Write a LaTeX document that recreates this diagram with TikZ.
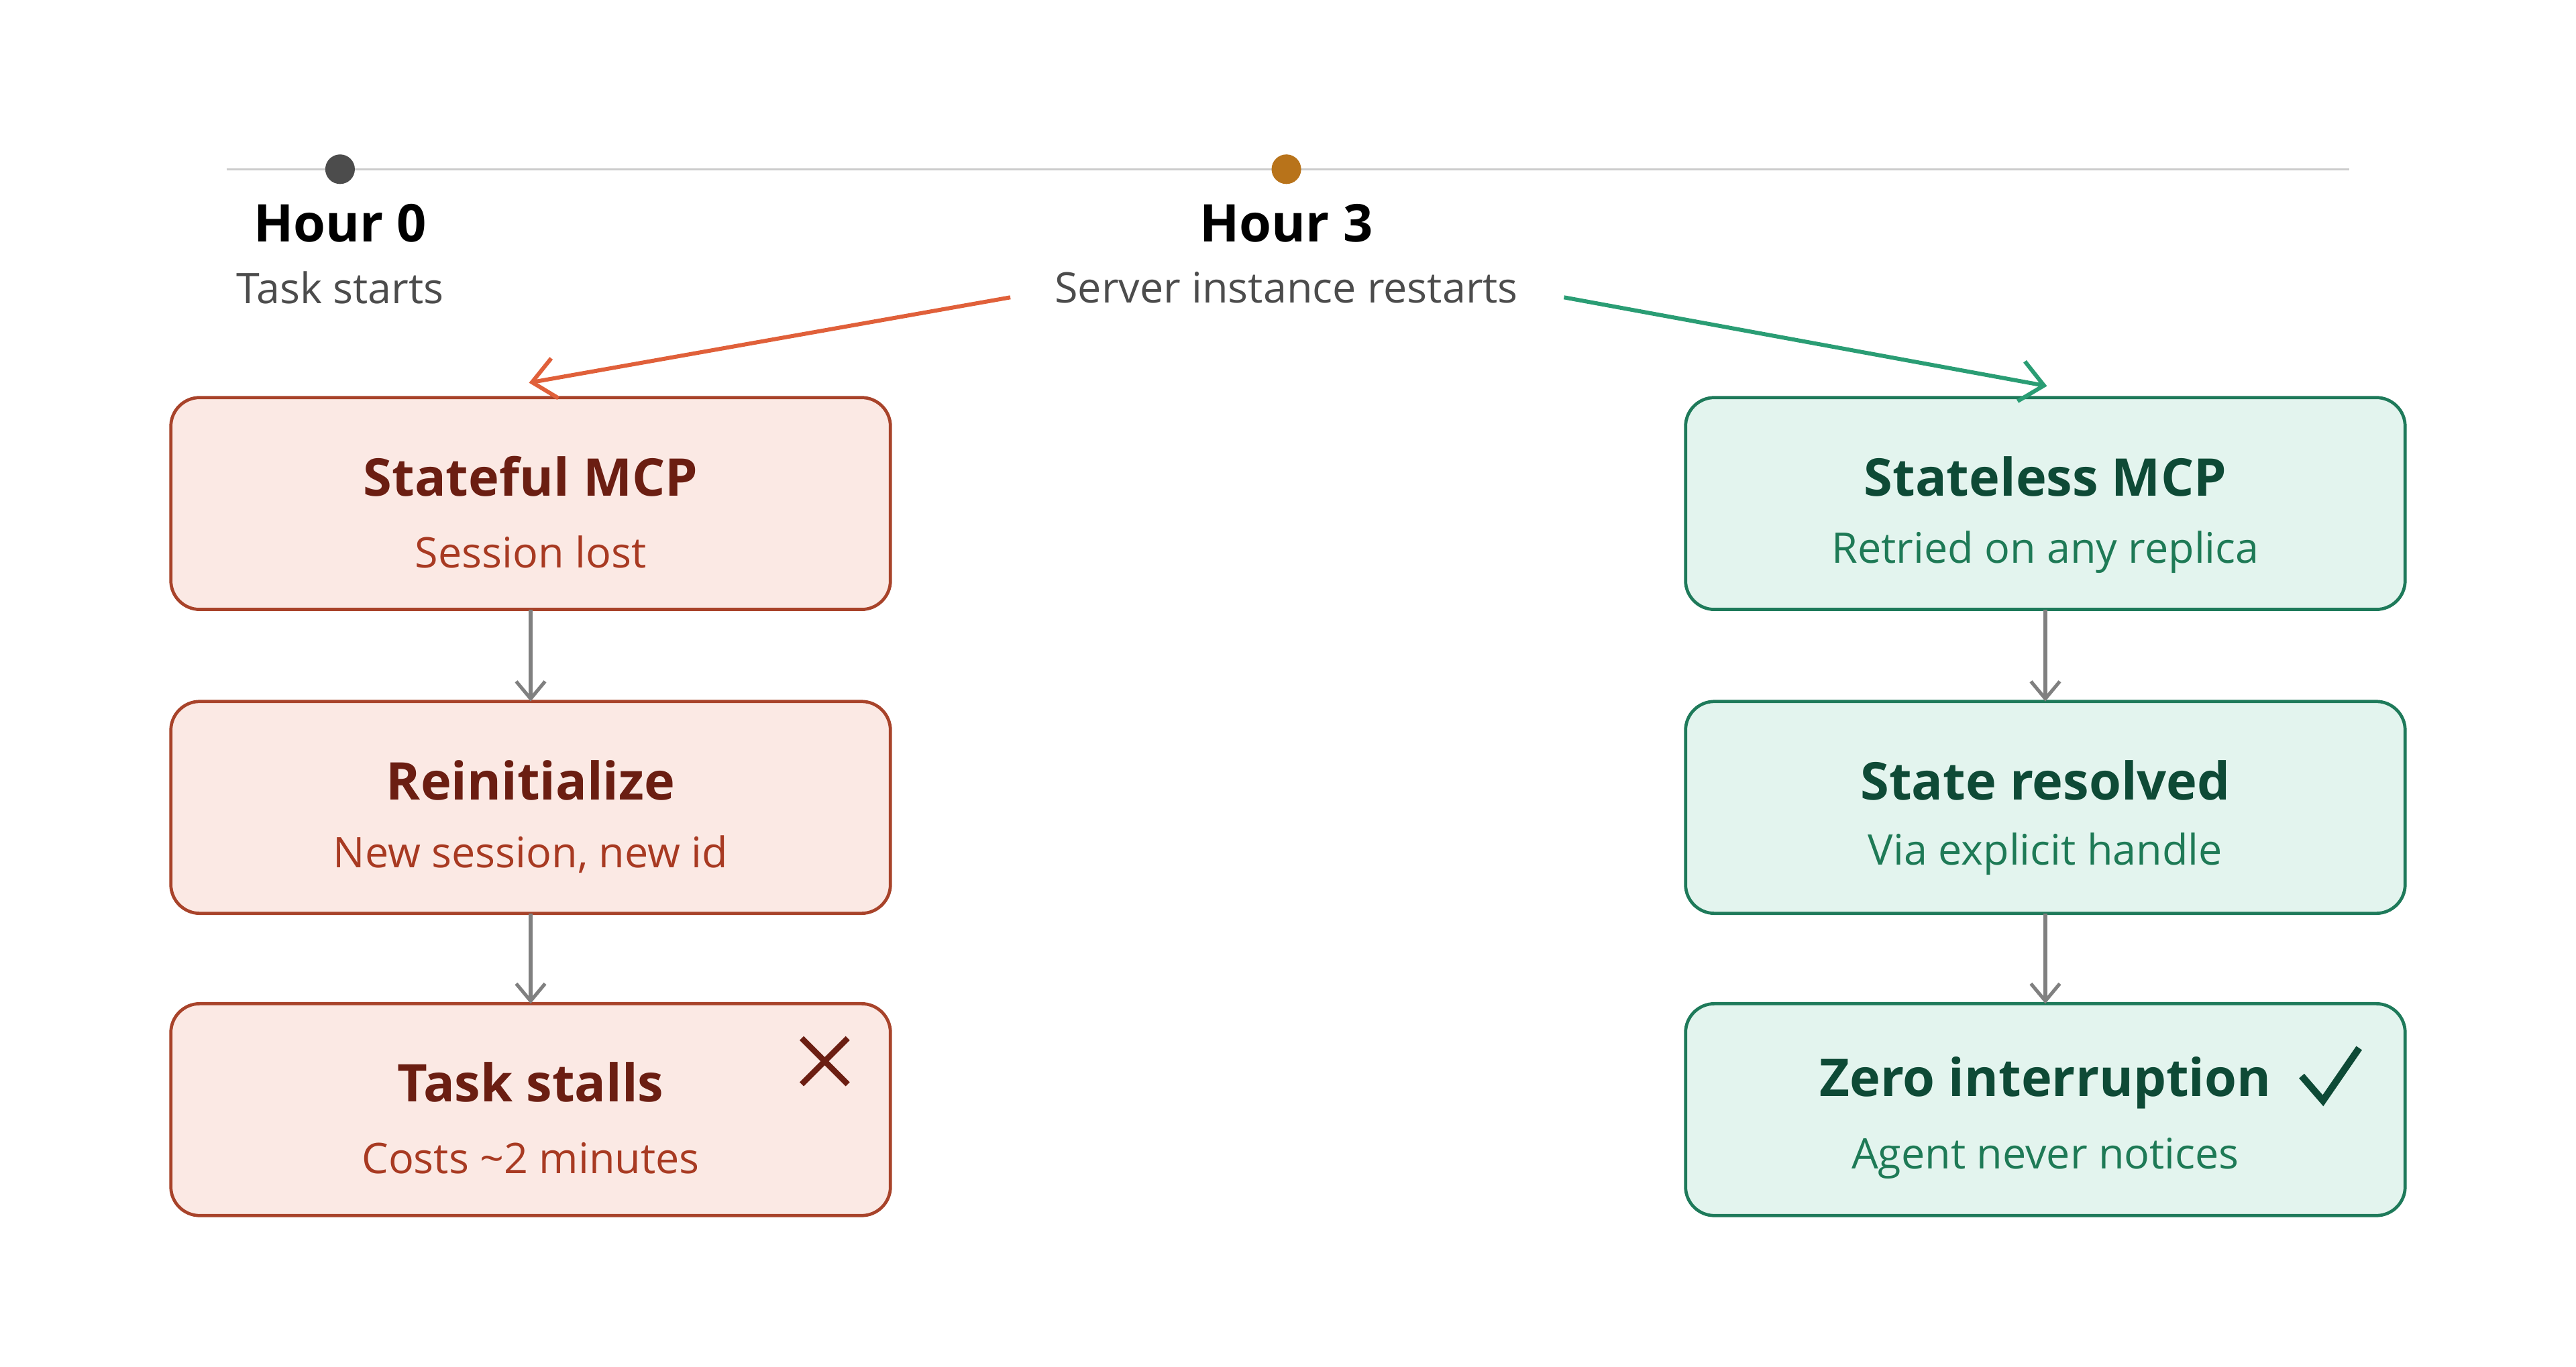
\documentclass[tikz,border=0pt]{standalone}
\usepackage{fontspec}
\setmainfont{Open Sans}
\usetikzlibrary{arrows.meta}
\definecolor{rb}{HTML}{A8432A}\definecolor{rf}{HTML}{FBE9E4}
\definecolor{rt}{HTML}{6B1E12}\definecolor{rs}{HTML}{A83A22}
\definecolor{gb}{HTML}{1E7A5A}\definecolor{gf}{HTML}{E3F4EE}
\definecolor{gt}{HTML}{0E4A36}\definecolor{gs}{HTML}{1E7A56}
\definecolor{ra}{HTML}{E0603A}\definecolor{ga}{HTML}{2A9D74}
\definecolor{od}{HTML}{B8731A}
\begin{document}
\begin{tikzpicture}[x=0.01cm,y=-0.01cm,
 rbox/.style={draw=rb,fill=rf,rounded corners=5pt,line width=0.55pt},
 gbox/.style={draw=gb,fill=gf,rounded corners=5pt,line width=0.55pt},
 ttl/.style={font=\fontsize{9}{10}\selectfont\bfseries},
 sub/.style={font=\fontsize{7.3}{9}\selectfont},
 down/.style={draw=gray,line width=0.6pt,-{Straight Barb[length=3pt,width=5pt]}}]
\useasboundingbox (0,0) rectangle (1568,832);
\draw[gray!40,line width=0.4pt] (138,103) -- (1430,103);
\fill[black!70] (207,103) circle (9);
\fill[od] (783,103) circle (9);
\node[ttl] (h0) at (207,136) {Hour 0};
\node[sub,black!70] (t0) at (207,175) {Task starts};
\node[ttl] (h3) at (783,136) {Hour 3};
\node[sub,black!70] (t3) at (783,175) {Server instance restarts};
\foreach \n/\y in {1/242,2/427,3/611}{
 \draw[rbox] (104,\y) rectangle (542,\y+129);
 \coordinate (L\n t) at (323,\y); \coordinate (L\n b) at (323,\y+129);
 \draw[gbox] (1026,\y) rectangle (1464,\y+129);
 \coordinate (R\n t) at (1245,\y); \coordinate (R\n b) at (1245,\y+129);}
\node[ttl,rt] (a1) at (323,290) {Stateful MCP};
\node[sub,rs] (a1s) at (323,336) {Session lost};
\node[ttl,rt] (a2) at (323,475) {Reinitialize};
\node[sub,rs] (a2s) at (323,520) {New session, new id};
\node[ttl,rt] (a3) at (323,659) {Task stalls};
\node[sub,rs] (a3s) at (323,705) {Costs \textasciitilde2 minutes};
\node[ttl,gt] (b1) at (1245,290) {Stateless MCP};
\node[sub,gs] (b1s) at (1245,336) {Retried on any replica};
\node[ttl,gt] (b2) at (1245,475) {State resolved};
\node[sub,gs] (b2s) at (1245,520) {Via explicit handle};
\node[ttl,gt] (b3) at (1245,659) {Zero interruption};
\node[sub,gs] (b3s) at (1245,705) {Agent never notices};
\draw[rt,line width=1pt] (488,632) -- (516,660) (516,632) -- (488,660);
\draw[gt,line width=1.2pt] (1401,655) -- (1414,670) -- (1436,638);
\coordinate (ra0) at (615,181); \coordinate (ra1) at (322,233);
\coordinate (ga0) at (952,181); \coordinate (ga1) at (1246,235);
\draw[ra,line width=0.7pt,-{Straight Barb[length=4pt,width=7pt]}] (ra0) -- (ra1);
\draw[ga,line width=0.7pt,-{Straight Barb[length=4pt,width=7pt]}] (ga0) -- (ga1);
\draw[down] (L1b) -- (L2t); \draw[down] (L2b) -- (L3t);
\draw[down] (R1b) -- (R2t); \draw[down] (R2b) -- (R3t);
\end{tikzpicture}
\end{document}
